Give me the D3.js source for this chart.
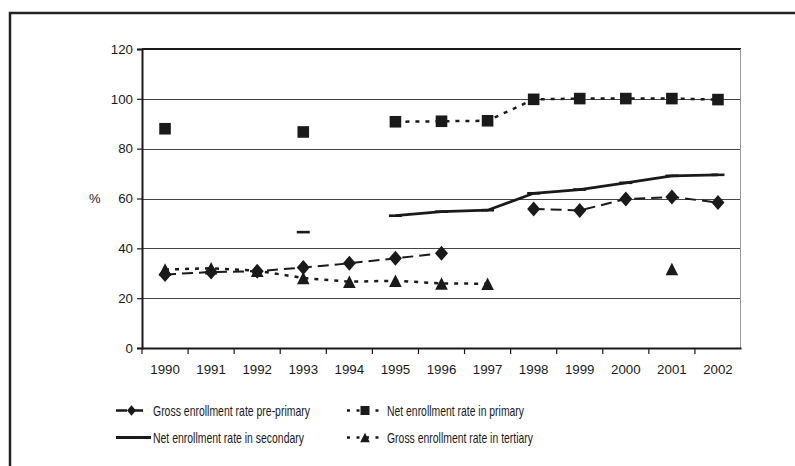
<!DOCTYPE html>
<html>
<head>
<meta charset="utf-8">
<script src="https://cdn.jsdelivr.net/npm/d3@7"></script>
<style>
  html, body { margin: 0; padding: 0; background: #fff; }
  svg { display: block; }
  text { font-family: "Liberation Sans", Arial, sans-serif; fill: #1a1a1a; }
</style>
</head>
<body>
<svg id="chart" width="795" height="466"></svg>
<script>
// ---- data ----
const years = ["1990","1991","1992","1993","1994","1995","1996","1997","1998","1999","2000","2001","2002"];
const prePrimary = [29.5, 30.5, 30.8, 32.3, 34, 36, 38, null, 55.8, 55.2, 59.8, 60.6, 58.4];
const primary    = [88, null, null, 86.7, null, 90.8, 91, 91.2, 99.8, 100.1, 100.1, 100.1, 99.7];
const secondary  = [null, null, null, 46.5, null, 53.1, 54.7, 55.3, 62.1, 63.6, 66.3, 69.1, 69.5];
const tertiary   = [31.5, 32, 31, 28.1, 26.6, 27, 25.9, 25.8, null, null, null, 31.7, null];
const yTicks = [0, 20, 40, 60, 80, 100, 120];
const seriesNames = [
  "Gross enrollment rate pre-primary",
  "Net enrollment rate in primary",
  "Net enrollment rate in secondary",
  "Gross enrollment rate in tertiary"
];

// ---- layout ----
const svg = d3.select("#chart");
const L = 142, R = 741, T = 49, B = 348;
const ink = "#1a1a1a";

// outer frame (extends beyond the picture at right and bottom)
svg.append("rect").attr("x", 10).attr("y", 13).attr("width", 820).attr("height", 480)
  .attr("fill", "none").attr("stroke", "#222").attr("stroke-width", 2.5);

const x = d3.scaleBand().domain(years).range([L, R]).paddingInner(0).paddingOuter(0);
const y = d3.scaleLinear().domain([0, 120]).range([B, T]);
const cx = d => x(d) + x.bandwidth() / 2;

// gridlines
svg.append("g").selectAll("line").data(yTicks.filter(v => v > 0 && v < 120)).join("line")
  .attr("x1", L).attr("x2", R)
  .attr("y1", d => Math.round(y(d)) + 0.5).attr("y2", d => Math.round(y(d)) + 0.5)
  .attr("stroke", "#444").attr("stroke-width", 1.1);

// plot frame: top dark, right grey
svg.append("line").attr("x1", L).attr("x2", R).attr("y1", y(120)).attr("y2", y(120))
  .attr("stroke", ink).attr("stroke-width", 2);
svg.append("line").attr("x1", R - 0.5).attr("x2", R - 0.5).attr("y1", y(120)).attr("y2", B)
  .attr("stroke", "#999").attr("stroke-width", 1);

// y axis
const yAxis = svg.append("g").attr("transform", `translate(${L},0)`)
  .call(d3.axisLeft(y).tickValues(yTicks).tickSize(5).tickPadding(4));
yAxis.select(".domain").attr("stroke", ink).attr("stroke-width", 2);
yAxis.selectAll(".tick line").attr("stroke", ink).attr("stroke-width", 1.2);
yAxis.selectAll(".tick text").attr("font-size", 13.3).attr("fill", ink)
  .attr("font-family", "'Liberation Sans', Arial, sans-serif");

// x axis: labels at centres, ticks at band boundaries
const xAxis = svg.append("g").attr("transform", `translate(0,${B})`)
  .call(d3.axisBottom(x).tickSize(0).tickPadding(17));
xAxis.select(".domain").attr("stroke", ink).attr("stroke-width", 2);
xAxis.selectAll(".tick text").attr("font-size", 13.3).attr("fill", ink)
  .attr("font-family", "'Liberation Sans', Arial, sans-serif");
svg.append("g").selectAll("line").data(years).join("line")
  .attr("x1", d => x(d)).attr("x2", d => x(d))
  .attr("y1", B).attr("y2", B + 6)
  .attr("stroke", ink).attr("stroke-width", 1.2);

// % label
svg.append("text").attr("x", 89).attr("y", y(60) + 4.5).attr("font-size", 13).text("%");

// ---- series ----
const mk = arr => years.map((yr, i) => ({ yr, v: arr[i] }));
const lineGen = d3.line().defined(d => d.v != null).x(d => cx(d.yr)).y(d => y(d.v));

const diamond = (s) => `M0,${-s*1.15}L${s},0L0,${s*1.15}L${-s},0Z`;
const square = (s) => `M${-s},${-s}H${s}V${s}H${-s}Z`;
const triangle = (s) => `M0,${-s}L${s},${s}H${-s}Z`;
const dashMark = (s) => `M${-s},-1.3H${s}V1.3H${-s}Z`;

const series = [
  { data: mk(tertiary),  dash: "4,6",  width: 2.5, shape: triangle(6.3) },
  { data: mk(secondary), dash: null,   width: 2.8, shape: dashMark(6.5) },
  { data: mk(primary),   dash: "4,6",  width: 2.5, shape: square(5.8) },
  { data: mk(prePrimary),dash: "11,6", width: 2,   shape: diamond(6.5) }
];

series.forEach(s => {
  svg.append("path").datum(s.data).attr("d", lineGen)
    .attr("fill", "none").attr("stroke", ink).attr("stroke-width", s.width)
    .attr("stroke-dasharray", s.dash);
  svg.append("g").selectAll("path").data(s.data.filter(d => d.v != null)).join("path")
    .attr("transform", d => `translate(${cx(d.yr)},${y(d.v)})`)
    .attr("d", s.shape).attr("fill", ink);
});

// ---- legend ----
const leg = [
  { name: seriesNames[0], lx: 116, ly: 410.5, x1: 0, x2: 31, mx: 15.5, dash: "11,5", width: 2.5, shape: diamond(4.5), tx: 153, tw: 157 },
  { name: seriesNames[1], lx: 347, ly: 410.5, x1: 0, x2: 36, mx: 18, dash: "3,6.5", width: 2.5, shape: square(4.5), tx: 387, tw: 137 },
  { name: seriesNames[2], lx: 116, ly: 437.5, x1: 0, x2: 35, mx: 17, dash: null, width: 3, shape: null, tx: 153, tw: 151 },
  { name: seriesNames[3], lx: 347, ly: 437.5, x1: 0, x2: 36, mx: 18, dash: "3,6.5", width: 2.5, shape: triangle(4.8), tx: 387, tw: 146 }
];
leg.forEach(l => {
  const g = svg.append("g").attr("transform", `translate(${l.lx},${l.ly})`);
  g.append("line").attr("x1", l.x1).attr("x2", l.x2).attr("y1", 0).attr("y2", 0)
    .attr("stroke", ink).attr("stroke-width", l.width).attr("stroke-dasharray", l.dash);
  if (l.shape) g.append("path").attr("transform", `translate(${l.mx},0)`).attr("d", l.shape).attr("fill", ink);
  svg.append("text").attr("x", l.tx).attr("y", l.ly + 5)
    .attr("font-size", 14.2)
    .attr("font-family", "'Liberation Sans Narrow', 'Liberation Sans', Arial, sans-serif")
    .attr("textLength", l.tw).attr("lengthAdjust", "spacingAndGlyphs")
    .text(l.name);
});
</script>
</body>
</html>
